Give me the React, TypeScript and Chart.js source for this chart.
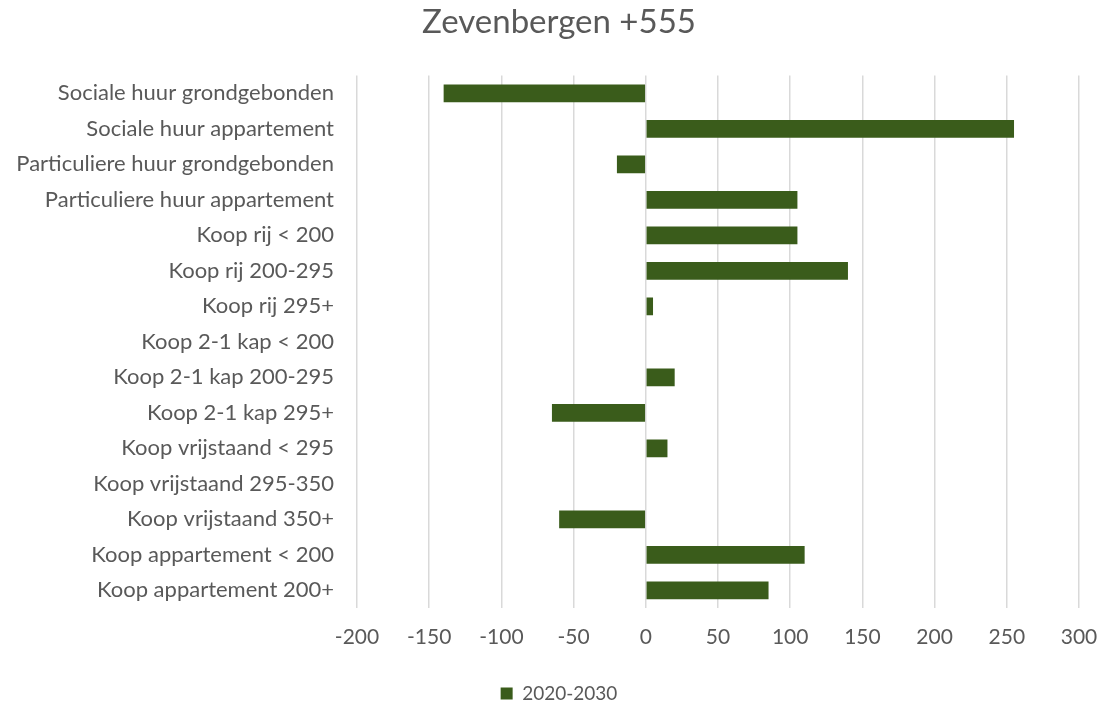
import React, { useEffect, useRef } from "react";
import { Chart, registerables } from "chart.js";

Chart.register(...registerables);

const chartTitle = "Zevenbergen +555";
const seriesLabel = "2020-2030";
const categories = [
  "Sociale huur grondgebonden",
  "Sociale huur appartement",
  "Particuliere huur grondgebonden",
  "Particuliere huur appartement",
  "Koop rij < 200",
  "Koop rij 200-295",
  "Koop rij 295+",
  "Koop 2-1 kap < 200",
  "Koop 2-1 kap 200-295",
  "Koop 2-1 kap 295+",
  "Koop vrijstaand < 295",
  "Koop vrijstaand 295-350",
  "Koop vrijstaand 350+",
  "Koop appartement < 200",
  "Koop appartement 200+",
];
const values = [-140, 255, -20, 105, 105, 140, 5, 0, 20, -65, 15, 0, -60, 110, 85];
const xMin = -200;
const xMax = 300;
const xStep = 50;

const FONT = "Lato, 'Open Sans', sans-serif";
const TEXT = "#595959";

const noLabelClip = {
  id: "noLabelClip",
  beforeDraw(chart: any) {
    const ys = chart.scales && chart.scales.y;
    if (ys) ys._computeLabelArea = () => undefined;
  },
};

export default function App() {
  const ref = useRef<HTMLCanvasElement | null>(null);

  useEffect(() => {
    document.body.style.margin = "0";
    const canvas = ref.current;
    if (!canvas) return;
    const chart = new Chart(canvas, {
      type: "bar",
      data: {
        labels: categories,
        datasets: [
          {
            label: seriesLabel,
            data: values,
            backgroundColor: "#3A5C1B",
            borderWidth: 0,
            barPercentage: 0.5,
            categoryPercentage: 1,
          },
        ],
      },
      plugins: [noLabelClip],
      options: {
        indexAxis: "y",
        animation: false,
        responsive: false,
        maintainAspectRatio: false,
        layout: { padding: { left: 39, right: 24, top: 0, bottom: -9 } },
        plugins: {
          title: {
            display: true,
            text: chartTitle,
            color: TEXT,
            font: { family: FONT, size: 33, weight: "normal" },
            padding: { top: 3, bottom: 33 },
          },
          legend: {
            display: true,
            position: "bottom",
            labels: {
              color: TEXT,
              font: { family: FONT, size: 19 },
              boxWidth: 12,
              boxHeight: 12,
              padding: 4,
            },
          },
          tooltip: { enabled: false },
        },
        scales: {
          x: {
            min: xMin,
            max: xMax,
            ticks: {
              stepSize: xStep,
              color: TEXT,
              font: { family: FONT, size: 21 },
              padding: 17,
            },
            grid: { color: "#d9d9d9", lineWidth: 1.5, drawTicks: false },
            border: { display: false },
            afterFit: (scale: any) => {
              scale.height = 72;
              scale.paddingLeft = 0;
              scale.paddingRight = 0;
            },
          },
          y: {
            ticks: {
              color: TEXT,
              font: { family: FONT, size: 22 },
              padding: 15,
            },
            grid: { display: false },
            border: { display: false },
            afterFit: (scale: any) => {
              scale.width = 318;
            },
          },
        },
      },
    });
    return () => chart.destroy();
  }, []);

  return <canvas ref={ref} width={1103} height={704} style={{ display: "block" }} />;
}
